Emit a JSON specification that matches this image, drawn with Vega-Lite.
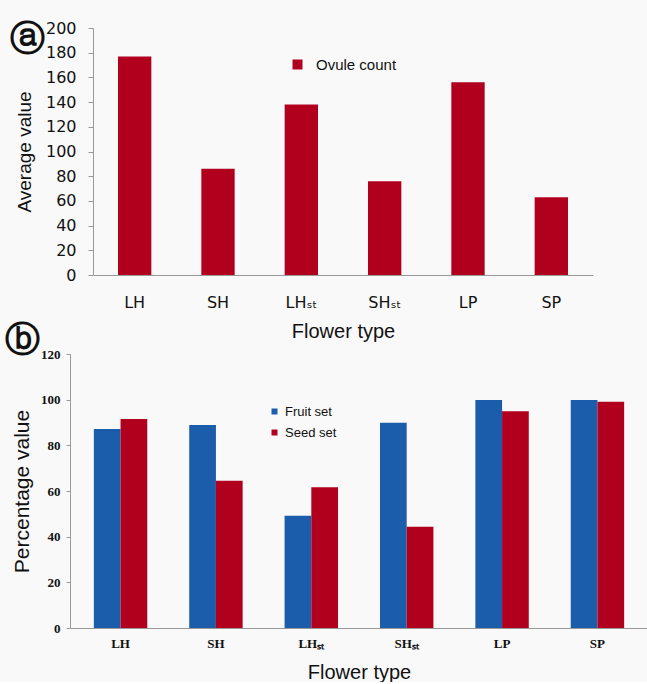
{
  "$schema": "https://vega.github.io/schema/vega-lite/v6.json",
  "background": "#f9f9f9",
  "padding": {"left": 5, "top": 20, "right": 0, "bottom": 0},
  "config": {
    "view": {"stroke": null},
    "axis": {"domainColor": "#999999", "tickColor": "#999999", "grid": false, "labelColor": "#111111", "titleColor": "#111111"}
  },
  "datasets": {
    "ovule": [
      {"flower": "LH", "series": "Ovule count", "value": 177},
      {"flower": "SH", "series": "Ovule count", "value": 86},
      {"flower": "LHₛₜ", "series": "Ovule count", "value": 138},
      {"flower": "SHₛₜ", "series": "Ovule count", "value": 76},
      {"flower": "LP", "series": "Ovule count", "value": 156},
      {"flower": "SP", "series": "Ovule count", "value": 63}
    ],
    "sets": [
      {"flower": "LH", "measure": "Fruit set", "value": 87.2},
      {"flower": "LH", "measure": "Seed set", "value": 91.5},
      {"flower": "SH", "measure": "Fruit set", "value": 88.9},
      {"flower": "SH", "measure": "Seed set", "value": 64.5},
      {"flower": "LHₛₜ", "measure": "Fruit set", "value": 49.2},
      {"flower": "LHₛₜ", "measure": "Seed set", "value": 61.6},
      {"flower": "SHₛₜ", "measure": "Fruit set", "value": 89.9},
      {"flower": "SHₛₜ", "measure": "Seed set", "value": 44.3},
      {"flower": "LP", "measure": "Fruit set", "value": 99.9},
      {"flower": "LP", "measure": "Seed set", "value": 94.9},
      {"flower": "SP", "measure": "Fruit set", "value": 99.9},
      {"flower": "SP", "measure": "Seed set", "value": 99.1}
    ]
  },
  "bounds": "flush",
  "spacing": 79,
  "resolve": {"scale": {"color": "independent"}, "legend": {"color": "independent"}},
  "vconcat": [
    {
      "width": 523,
      "height": 247,
      "data": {"name": "ovule"},
      "title": {"text": "ⓐ", "anchor": "start", "frame": "group", "dx": -60, "font": "DejaVu Sans", "fontWeight": "bold", "fontSize": 35, "offset": -37, "color": "#111111"},
      "mark": {"type": "bar"},
      "encoding": {
        "x": {
          "field": "flower", "type": "nominal", "sort": null,
          "scale": {"range": [23, 523], "paddingInner": 0.6, "paddingOuter": 0.3},
          "axis": {"title": "Flower type", "labelAngle": 0, "ticks": false, "labelPadding": 19, "labelFont": "DejaVu Sans", "labelFontSize": 16, "titleFont": "Liberation Sans", "titleFontSize": 20, "titleFontWeight": "normal", "titlePadding": 11}
        },
        "y": {
          "field": "value", "type": "quantitative",
          "scale": {"domain": [0, 200]},
          "axis": {"title": "Average value", "offset": -23, "values": [0, 20, 40, 60, 80, 100, 120, 140, 160, 180, 200], "tickSize": 5, "labelPadding": 12, "labelFont": "DejaVu Sans", "labelFontSize": 16, "titleFont": "Liberation Sans", "titleFontSize": 19, "titleFontWeight": "normal", "titlePadding": 11}
        },
        "color": {
          "field": "series", "type": "nominal",
          "scale": {"range": ["#b0001e"]},
          "legend": {"title": null, "orient": "none", "legendX": 220, "legendY": 29, "symbolType": "square", "symbolSize": 100, "symbolStrokeWidth": 0, "labelFont": "Liberation Sans", "labelFontSize": 15, "labelOffset": 11, "labelColor": "#111111"}
        }
      }
    },
    {
      "width": 578,
      "height": 274,
      "data": {"name": "sets"},
      "title": {"text": "ⓑ", "anchor": "start", "frame": "group", "dx": -65, "font": "DejaVu Sans", "fontWeight": "bold", "fontSize": 35, "offset": -10, "color": "#111111"},
      "mark": {"type": "bar"},
      "encoding": {
        "x": {
          "field": "flower", "type": "nominal", "sort": null,
          "scale": {"paddingInner": 0.44, "paddingOuter": 0.25},
          "axis": {"title": "Flower type", "labelAngle": 0, "ticks": false, "labelPadding": 9, "labelFont": "Liberation Serif", "labelFontWeight": "bold", "labelFontSize": 13, "titleFont": "Liberation Sans", "titleFontSize": 20, "titleFontWeight": "normal", "titlePadding": 12}
        },
        "xOffset": {"field": "measure", "type": "nominal", "scale": {"paddingInner": 0}},
        "y": {
          "field": "value", "type": "quantitative",
          "scale": {"domain": [0, 120]},
          "axis": {"title": "Percentage value", "values": [0, 20, 40, 60, 80, 100, 120], "tickSize": 4, "labelPadding": 6, "labelFont": "Liberation Serif", "labelFontWeight": "bold", "labelFontSize": 13, "titleFont": "Liberation Sans", "titleFontSize": 21, "titleFontWeight": "normal", "titlePadding": 8}
        },
        "color": {
          "field": "measure", "type": "nominal",
          "scale": {"domain": ["Fruit set", "Seed set"], "range": ["#1b5cab", "#b0001e"]},
          "legend": {"title": null, "orient": "none", "legendX": 198, "legendY": 51, "symbolType": "square", "symbolSize": 36, "symbolStrokeWidth": 0, "labelFont": "Liberation Sans", "labelFontSize": 13, "labelOffset": 4, "rowPadding": 7, "labelColor": "#111111"}
        }
      }
    }
  ]
}
